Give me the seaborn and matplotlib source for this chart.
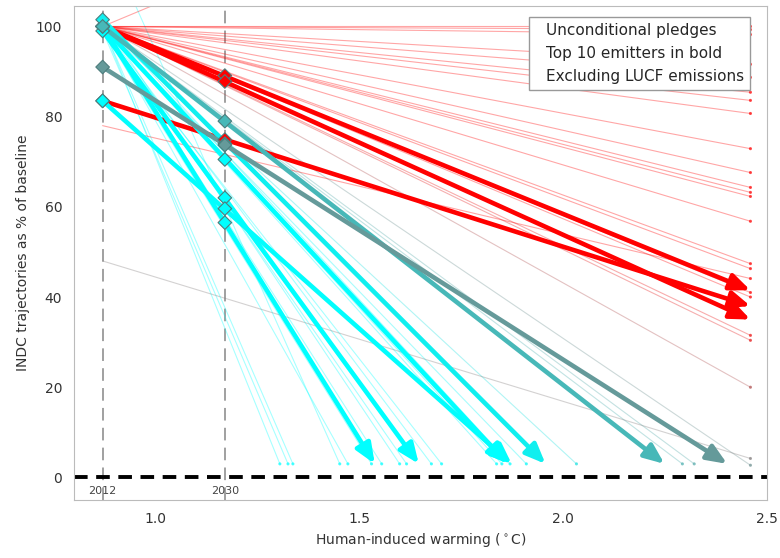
import numpy as np
import pandas as pd
import seaborn as sns
import matplotlib
matplotlib.use('Agg')
from matplotlib import pyplot as plt
from matplotlib.colors import LinearSegmentedColormap
from matplotlib.lines import Line2D

sns.set_style("white")

# warming reached in the two reference years
warm_2012 = 0.87
warm_2030 = 1.17

# thin lines: 2012 value, end warming, end value
thin_y2012 = [100, 100, 100, 100, 100, 100, 100, 100, 100, 100, 100, 100,
              100, 100, 100, 100, 78, 100, 100, 100, 100, 100, 100,
              48, 100,
              100, 99, 100, 121, 100, 99, 100, 101.5, 100, 100, 99,
              100, 100, 101.5, 100, 100, 100, 100]
thin_xend = [2.46] * 25 + [1.305, 1.325, 1.337, 1.452, 1.472, 1.530, 1.555,
                           1.599, 1.616, 1.677, 1.702, 1.837, 1.850, 1.870,
                           1.910, 2.033, 2.293, 2.322]
thin_yend = [100, 99.3, 98.2, 91.6, 88.7, 85.4, 83.6, 80.7, 72.9, 67.6, 64.3,
             63.2, 62.3, 56.8, 47.4, 46.3, 44.1, 41.0, 40.0, 31.5, 30.4, 20.0,
             160, 4.2, 2.7] + [3] * 18

# top 10 emitters (bold)
bold_y2012 = [100, 100, 83.5, 100, 99, 83.5, 100, 101.5, 100, 91]
bold_y2030 = [89.1, 87.8, 74.9, 56.5, 62.0, 59.6, 70.5, 74.0, 79.0, 73.7]
bold_xend = [2.46, 2.46, 2.46, 1.538, 1.646, 1.874, 1.864, 1.957, 2.249, 2.403]
bold_yend = [41.5, 35.0, 38.0, 3, 3, 3, 3, 3, 3, 3]

cmap = LinearSegmentedColormap.from_list('rc', ['#00ffff', '#ff0000'])
hue_norm = (1.9, 3.3)


def zero_warming(y0, xe, ye):
    y0, xe, ye = np.asarray(y0, float), np.asarray(xe, float), np.asarray(ye, float)
    slope = (ye - y0) / (xe - warm_2012)
    with np.errstate(divide='ignore'):
        w = np.where(slope < 0, warm_2012 - y0 / slope, 10.0)
    return w


thin_w = zero_warming(thin_y2012, thin_xend, thin_yend)
bold_w = zero_warming(bold_y2012, bold_xend, bold_yend)

rows = []
for i in range(len(thin_y2012)):
    rows.append(dict(id=i, x=warm_2012, y=thin_y2012[i], w=thin_w[i]))
    rows.append(dict(id=i, x=thin_xend[i], y=thin_yend[i], w=thin_w[i]))
thin_df = pd.DataFrame(rows)
thin_end = pd.DataFrame({'x': thin_xend, 'y': thin_yend, 'w': thin_w})

marks = pd.DataFrame({
    'x': [warm_2012] * len(bold_y2012) + [warm_2030] * len(bold_y2030),
    'y': bold_y2012 + bold_y2030,
    'w': list(bold_w) + list(bold_w),
})

fig = plt.figure(figsize=(7.8, 5.58), dpi=100)
ax = fig.add_axes([0.095, 0.104, 0.888, 0.885])

ax.axvline(warm_2012, color='#999999', lw=1.3, ls=(0, (7, 4)), zorder=1)
ax.axvline(warm_2030, color='#999999', lw=1.3, ls=(0, (7, 4)), zorder=1)
ax.axhline(0, color='black', lw=2.8, ls=(0, (3.5, 2.2)), zorder=1)

sns.lineplot(data=thin_df, x='x', y='y', units='id', estimator=None, sort=False,
             hue='w', palette=cmap, hue_norm=hue_norm, lw=0.8, alpha=0.35,
             legend=False, ax=ax)
sns.scatterplot(data=thin_end, x='x', y='y', hue='w', palette=cmap,
                hue_norm=hue_norm, s=5, linewidth=0, alpha=0.7, legend=False, ax=ax)

norm = plt.Normalize(*hue_norm)
for i in range(len(bold_y2012)):
    c = cmap(norm(bold_w[i]))
    ax.annotate('', xy=(bold_xend[i], bold_yend[i]), xytext=(warm_2012, bold_y2012[i]),
                arrowprops=dict(arrowstyle='-|>,head_length=1.2,head_width=0.5',
                                color=c, lw=3.3, shrinkA=0, shrinkB=0),
                zorder=3)

sns.scatterplot(data=marks, x='x', y='y', hue='w', palette=cmap, hue_norm=hue_norm,
                marker='D', s=48, edgecolor='#4d7d7d', linewidth=0.8,
                legend=False, ax=ax, zorder=4)

ax.text(warm_2012, -4.2, '2012', ha='center', va='bottom', fontsize=8, color='#444444')
ax.text(warm_2030, -4.2, '2030', ha='center', va='bottom', fontsize=8, color='#444444')

handles = [Line2D([], [], color='none')] * 3
ax.legend(handles, ['Unconditional pledges', 'Top 10 emitters in bold',
                    'Excluding LUCF emissions'],
          loc='upper right', bbox_to_anchor=(0.9755, 0.9777), borderaxespad=0,
          handlelength=0.4, handletextpad=0.3, labelspacing=0.5, fontsize=11,
          frameon=True, fancybox=False, edgecolor='#999999', framealpha=1)

ax.set_xlim(0.8, 2.5)
ax.set_ylim(-5, 104.5)
ax.set_xticks([1.0, 1.5, 2.0, 2.5])
ax.set_yticks([0, 20, 40, 60, 80, 100])
ax.tick_params(axis='both', direction='out', length=5, width=1, color='#555555',
               labelsize=10, labelcolor='#333333')
for s in ax.spines.values():
    s.set_color('#bbbbbb')
ax.set_xlabel('Human-induced warming ($^\\circ$C)', fontsize=10, color='#333333')
ax.set_ylabel('INDC trajectories as % of baseline', fontsize=10, color='#333333')

fig.savefig('out.png', dpi=100)
